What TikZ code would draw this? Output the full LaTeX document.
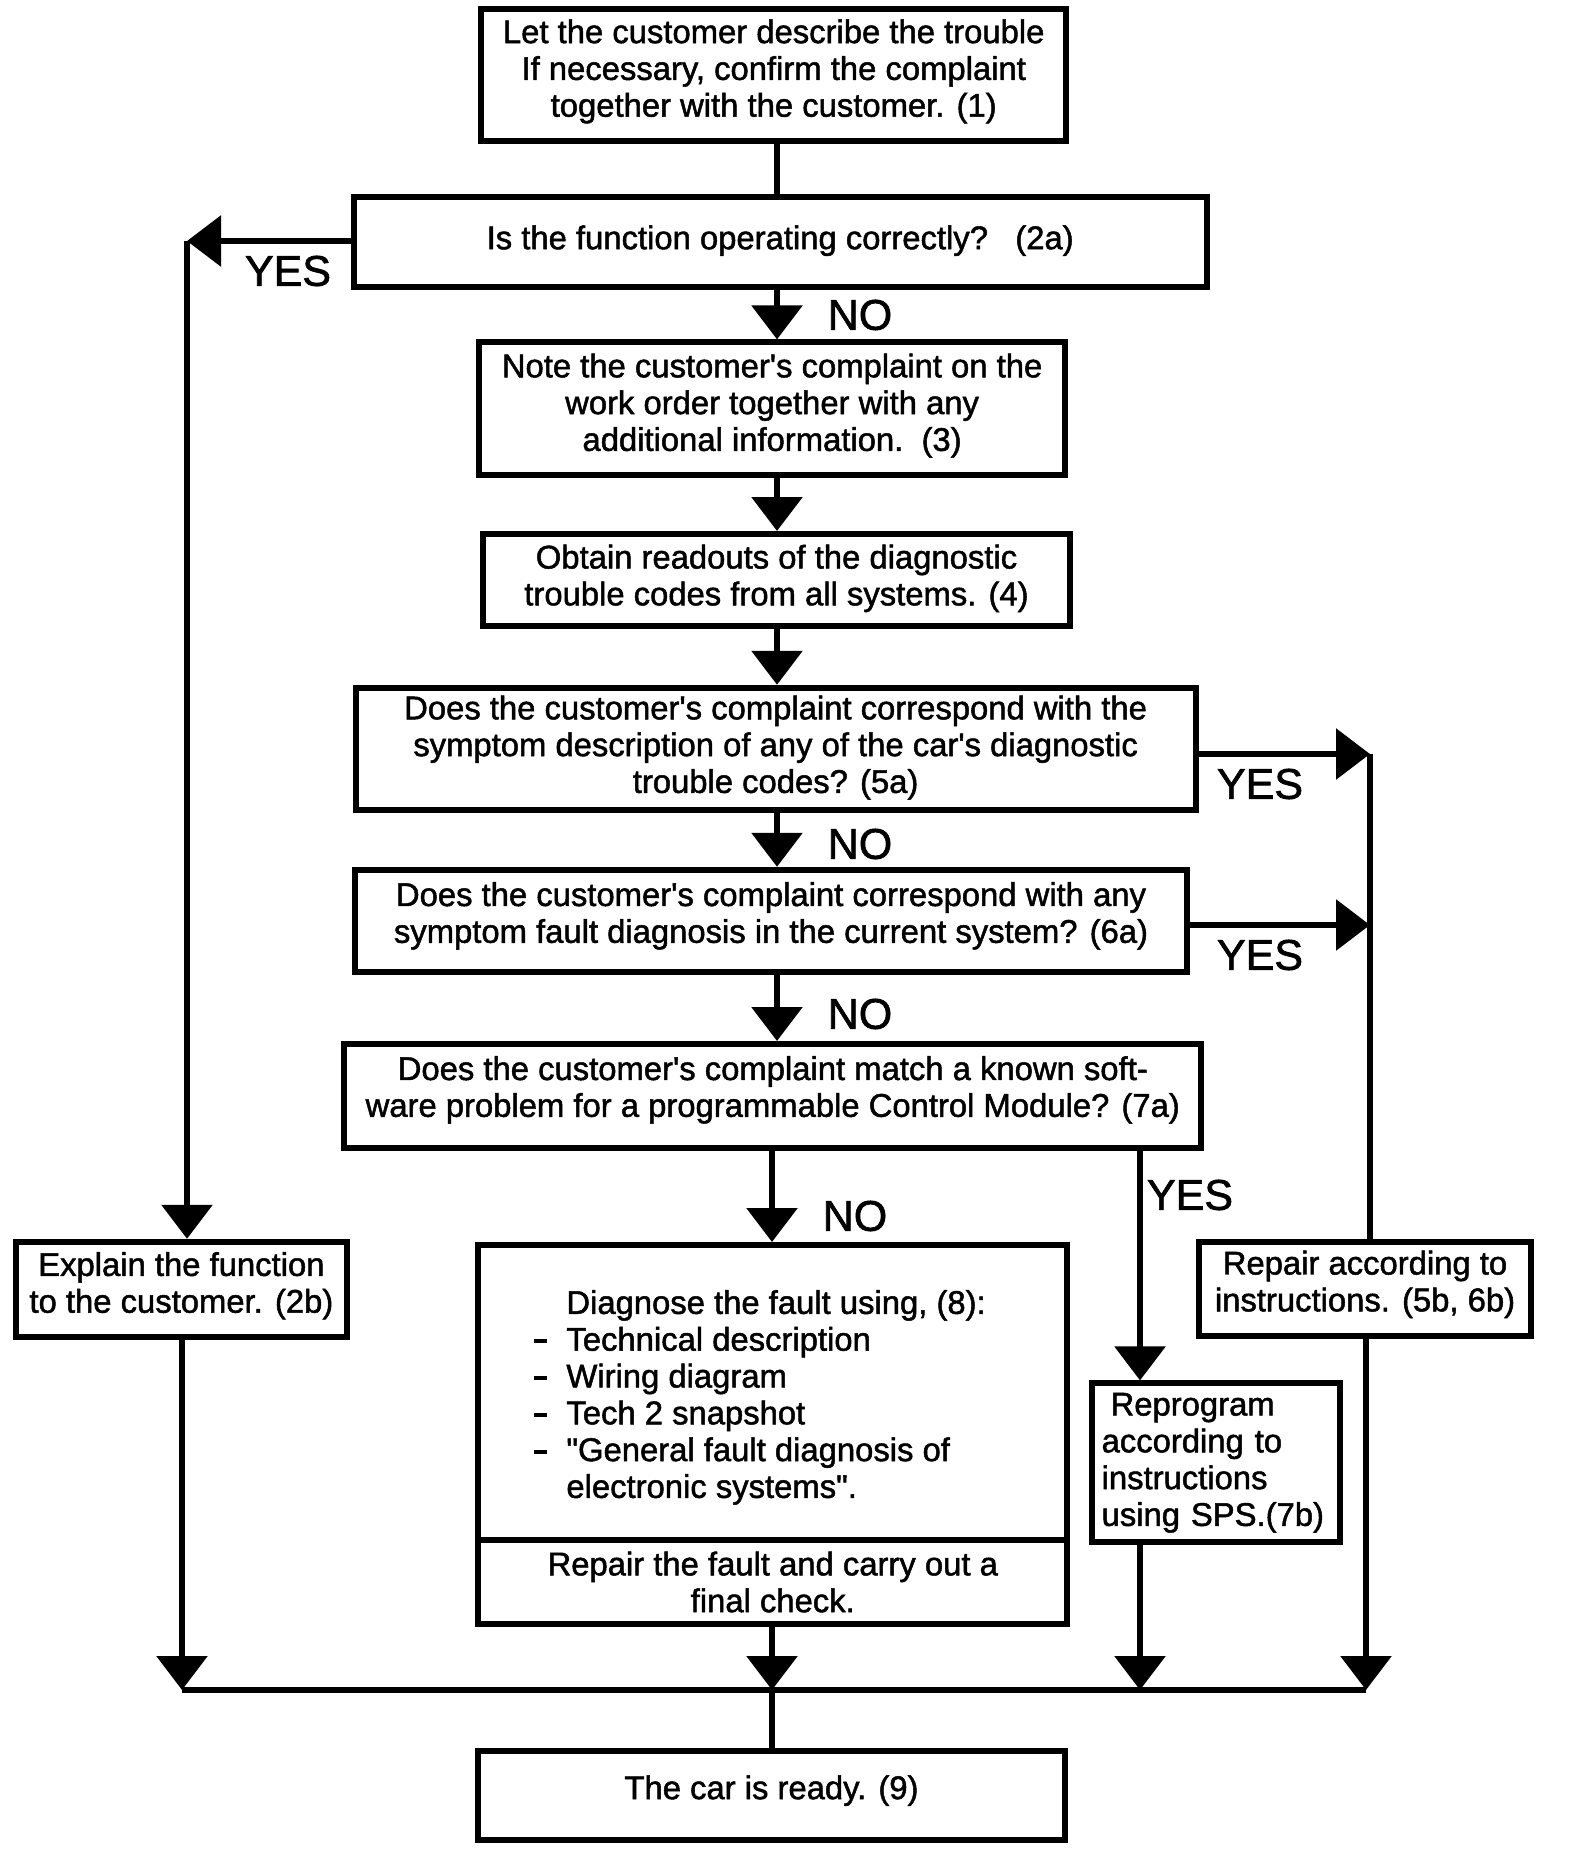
\documentclass[tikz,border=0pt]{standalone}
\usepackage{fontspec}
\setmainfont{Liberation Sans}[Ligatures=TeXOff]
\newfontfamily\heavy{Liberation Sans}[Ligatures=TeXOff, RawFeature={embolden=1.5}]
\usetikzlibrary{arrows.meta}
\newcommand{\bdash}{\rule[3.7pt]{6.5pt}{1.9pt}}
\begin{document}
\begin{tikzpicture}[x=0.5pt,y=-0.5pt,
  box/.style={draw, line width=3pt, inner sep=0pt, align=center, font=\heavy\fontsize{16.4}{18.4}\selectfont},
  txt/.style={inner sep=0pt, font=\heavy\fontsize{16.4}{18.4}\selectfont},
  lbl/.style={inner sep=0pt, font=\heavy\fontsize{21.5}{24}\selectfont},
  dp/.style={execute at end node={\rule[-#1]{0pt}{0pt}}},
  link/.style={line width=3pt},
  arr/.style={line width=3pt, -{Triangle[length=17pt,width=25pt]}},
]
\useasboundingbox[fill=white] (0,0) rectangle (1584,1856);

% boxes
\node[box, dp=7.1pt, minimum width=292.3pt, minimum height=66.1pt] (b1) at (773.7,75.1)
  {Let the customer describe the trouble\\If necessary, confirm the complaint\\together with the customer. (1)};
\node[box, dp=4.7pt, minimum width=426.6pt, minimum height=45pt] (b2a) at (780.2,242)
  {Is the function operating correctly?\ \ \ (2a)};
\node[box, dp=6.5pt, minimum width=292.7pt, minimum height=66.3pt] (b3) at (772.1,408.7)
  {Note the customer's complaint on the\\work order together with any\\additional information.\ \ (3)};
\node[box, dp=5pt, minimum width=293.2pt, minimum height=46pt] (b4) at (776.5,580)
  {Obtain readouts of the diagnostic\\trouble codes from all systems. (4)};
\node[box, dp=4.7pt, minimum width=420pt, minimum height=61.1pt] (b5a) at (775.6,748.9)
  {Does the customer's complaint correspond with the\\symptom description of any of the car's diagnostic\\trouble codes? (5a)};
\node[box, dp=8.3pt, minimum width=416pt, minimum height=51pt] (b6a) at (771,920.8)
  {Does the customer's complaint correspond with any\\symptom fault diagnosis in the current system? (6a)};
\node[box, dp=9.5pt, minimum width=428.4pt, minimum height=52pt] (b7a) at (772.8,1096)
  {Does the customer's complaint match a known soft-\\ware problem for a programmable Control Module? (7a)};
\node[box, dp=7.1pt, minimum width=165.6pt, minimum height=47.7pt] (b2b) at (181.4,1289.5)
  {Explain the function\\to the customer. (2b)};
\node[box, dp=7.7pt, minimum width=165.7pt, minimum height=46.9pt] (b5b) at (1365,1288.7)
  {Repair according to\\instructions. (5b, 6b)};
\node[box, minimum width=294.5pt, minimum height=147.5pt] (b8t) at (772.75,1392.5) {};
\node[txt, anchor=west] (b8txt) at (534,1398.5)
  {\begin{tabular}{@{}l@{\hspace{9.5pt}}l@{}}
   & Diagnose the fault using, (8):\\
   \bdash & Technical description\\
   \bdash & Wiring diagram\\
   \bdash & Tech 2 snapshot\\
   \bdash & "General fault diagnosis of\\
   & electronic systems".
   \end{tabular}};
\node[box, minimum width=294.5pt, minimum height=42pt] (b8b) at (772.75,1582)
  {Repair the fault and carry out a\\final check.};
\node[box, align=left, inner xsep=5pt, text width=114.2pt, minimum height=79.4pt] (b7b) at (1215.8,1462.8)
  {\hspace*{4.5pt}Reprogram\\according to\\instructions\\using SPS.(7b)};
\node[box, dp=8.3pt, minimum width=293.2pt, minimum height=44.5pt] (b9) at (771.5,1795.5)
  {The car is ready. (9)};

% helper coordinates
\coordinate (sp) at (777,0);
\coordinate (sp2) at (772,0);
\coordinate (tl) at (187,241);
\coordinate (r5) at (1370,754);
\coordinate (r6) at (1370,925);
\coordinate (y7) at (1140,1151);
\coordinate (bus) at (772,1690);
\coordinate (busL) at (182,1690);
\coordinate (busR) at (1366,1690);

% main spine
\draw[link] (b1.south -| sp) -- (b2a.north -| sp);
\draw[arr] (b2a.south -| sp) -- (b3.north -| sp);
\draw[arr] (b3.south -| sp) -- (b4.north -| sp);
\draw[arr] (b4.south -| sp) -- (b5a.north -| sp);
\draw[arr] (b5a.south -| sp) -- (b6a.north -| sp);
\draw[arr] (b6a.south -| sp) -- (b7a.north -| sp);
\draw[arr] (b7a.south -| sp2) -- (b8t.north -| sp2);
\draw[arr] (b8b.south -| bus) -- (bus);
\draw[link] (bus) -- (b9.north -| bus);

% left YES branch
\draw[arr] (b2a.west |- tl) -- (tl);
\draw[arr] (tl) -- (tl |- b2b.north);
\draw[arr] (b2b.south -| busL) -- (busL);

% right YES branches
\draw[arr] (b5a.east |- r5) -- (r5);
\draw[arr] (b6a.east |- r6) -- (r6);
\draw[link] (r5) -- (r5 |- b5b.north);
\draw[arr] (b5b.south -| busR) -- (busR);

% 7a YES branch
\draw[arr] (b7a.south -| y7) -- (b7b.north -| y7);
\draw[arr] (b7b.south -| y7) -- (y7 |- bus);

% collector
\draw[link] (busL) -- (busR);

% labels
\node[lbl] (yes2) at (288,271) {YES};
\node[lbl] (no2) at (860,315) {NO};
\node[lbl] (yes5) at (1260,784) {YES};
\node[lbl] (no5) at (860,844) {NO};
\node[lbl] (yes6) at (1260,955) {YES};
\node[lbl] (no6) at (860,1014) {NO};
\node[lbl] (yes7) at (1190,1195) {YES};
\node[lbl] (no7) at (855,1216) {NO};
\end{tikzpicture}
\end{document}
